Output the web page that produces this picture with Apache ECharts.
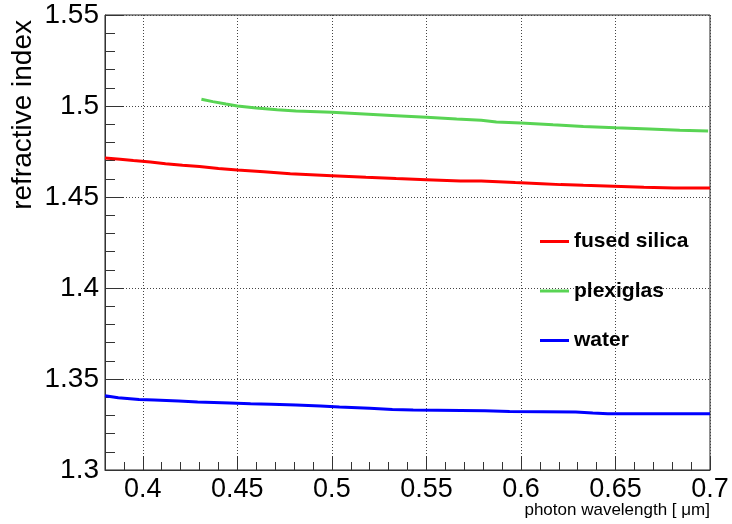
<!DOCTYPE html>
<html>
<head>
<meta charset="utf-8">
<script src="https://cdn.jsdelivr.net/npm/echarts@6/dist/echarts.min.js"></script>
<style>
  html, body { margin: 0; padding: 0; background: #fff; }
  #chart { width: 732px; height: 524px; }
</style>
</head>
<body>
<div id="chart"></div>
<script>
// wavelength [um] / refractive index
const silicaX = [0.380, 0.388, 0.395, 0.404, 0.412, 0.421, 0.430, 0.440, 0.450, 0.464, 0.478, 0.500, 0.518, 0.534, 0.550, 0.568, 0.579, 0.597, 0.611, 0.621, 0.633, 0.649, 0.665, 0.681, 0.700];
const silicaY = [1.4714, 1.4707, 1.4700, 1.4692, 1.4683, 1.4674, 1.4667, 1.4656, 1.4648, 1.4639, 1.4628, 1.4617, 1.4608, 1.4601, 1.4595, 1.4588, 1.4588, 1.4579, 1.4573, 1.4568, 1.4564, 1.4559, 1.4553, 1.4549, 1.4549];

const plexiX = [0.431, 0.437, 0.444, 0.450, 0.460, 0.471, 0.481, 0.500, 0.517, 0.534, 0.550, 0.566, 0.579, 0.587, 0.600, 0.617, 0.633, 0.650, 0.668, 0.684, 0.699];
const plexiY = [1.5037, 1.5024, 1.5011, 1.5000, 1.4989, 1.4980, 1.4973, 1.4965, 1.4956, 1.4947, 1.4938, 1.4929, 1.4922, 1.4912, 1.4907, 1.4897, 1.4888, 1.4881, 1.4874, 1.4867, 1.4863];

const waterX = [0.380, 0.387, 0.398, 0.406, 0.419, 0.429, 0.446, 0.457, 0.468, 0.481, 0.494, 0.504, 0.520, 0.532, 0.543, 0.581, 0.594, 0.629, 0.638, 0.646, 0.700];
const waterY = [1.3408, 1.3397, 1.3388, 1.3385, 1.3379, 1.3374, 1.3368, 1.3364, 1.3361, 1.3357, 1.3352, 1.3346, 1.3339, 1.3333, 1.3330, 1.3326, 1.3322, 1.3319, 1.3313, 1.3309, 1.3309];

const seriesNames = ['fused silica', 'plexiglas', 'water'];

const pairs = (xs, ys) => xs.map((x, i) => [x, ys[i]]);

const chart = echarts.init(document.getElementById('chart'));
const font = 'Liberation Sans, Arial, Helvetica, sans-serif';

const option = {
  animation: false,
  backgroundColor: '#fff',
  color: ['#ff0000', '#59d454', '#0000ff'],
  grid: {
    left: 105, right: 22, top: 15, bottom: 54,
    show: true, borderColor: '#222', borderWidth: 1
  },
  legend: {
    orient: 'vertical',
    left: 540, top: 231, padding: 0,
    icon: 'rect',
    itemWidth: 29, itemHeight: 3, itemGap: 28.5,
    textStyle: { fontFamily: font, fontSize: 21, fontWeight: 'bold', color: '#000' },
    data: seriesNames
  },
  xAxis: {
    type: 'value',
    min: 0.38, max: 0.7,
    splitNumber: 6,
    axisLine: { onZero: false, lineStyle: { color: '#333', width: 1 } },
    axisTick: { inside: true, length: 14, lineStyle: { color: '#333' } },
    minorTick: { show: true, splitNumber: 5, length: 8, lineStyle: { color: '#333' } },
    splitLine: { show: true, lineStyle: { color: '#444', type: [1, 2], width: 1 } },
    axisLabel: {
      fontFamily: font, fontSize: 27, color: '#000', margin: 6,
      formatter: v => (Math.abs(v * 20 - Math.round(v * 20)) < 1e-6 ? String(+v.toFixed(2)) : '')
    }
  },
  yAxis: {
    type: 'value',
    min: 1.3, max: 1.55, interval: 0.05,
    axisLine: { show: true, onZero: false, lineStyle: { color: '#333', width: 1 } },
    axisTick: { show: true, inside: true, length: 19, lineStyle: { color: '#333' } },
    minorTick: { show: true, splitNumber: 5, length: 10, lineStyle: { color: '#333' } },
    splitLine: { show: true, lineStyle: { color: '#444', type: [1, 2], width: 1 } },
    axisLabel: {
      fontFamily: font, fontSize: 28, color: '#000', margin: 6,
      formatter: v => String(+v.toFixed(2))
    }
  },
  graphic: [
    {
      type: 'text', x: 23, y: 20, rotation: Math.PI / 2, originX: 0, originY: 0,
      style: { text: 'refractive index', fontFamily: font, fontSize: 28, fill: '#000', textAlign: 'right', textVerticalAlign: 'middle' }
    },
    {
      type: 'text', right: 22, top: 502,
      style: { text: 'photon wavelength [ \u03bcm]', fontFamily: font, fontSize: 17, fill: '#000' }
    }
  ],
  series: [
    { name: seriesNames[0], type: 'line', data: pairs(silicaX, silicaY), symbol: 'none', lineStyle: { width: 3 } },
    { name: seriesNames[1], type: 'line', data: pairs(plexiX, plexiY), symbol: 'none', lineStyle: { width: 3 } },
    { name: seriesNames[2], type: 'line', data: pairs(waterX, waterY), symbol: 'none', lineStyle: { width: 3 } }
  ]
};

chart.setOption(option);
</script>
</body>
</html>
